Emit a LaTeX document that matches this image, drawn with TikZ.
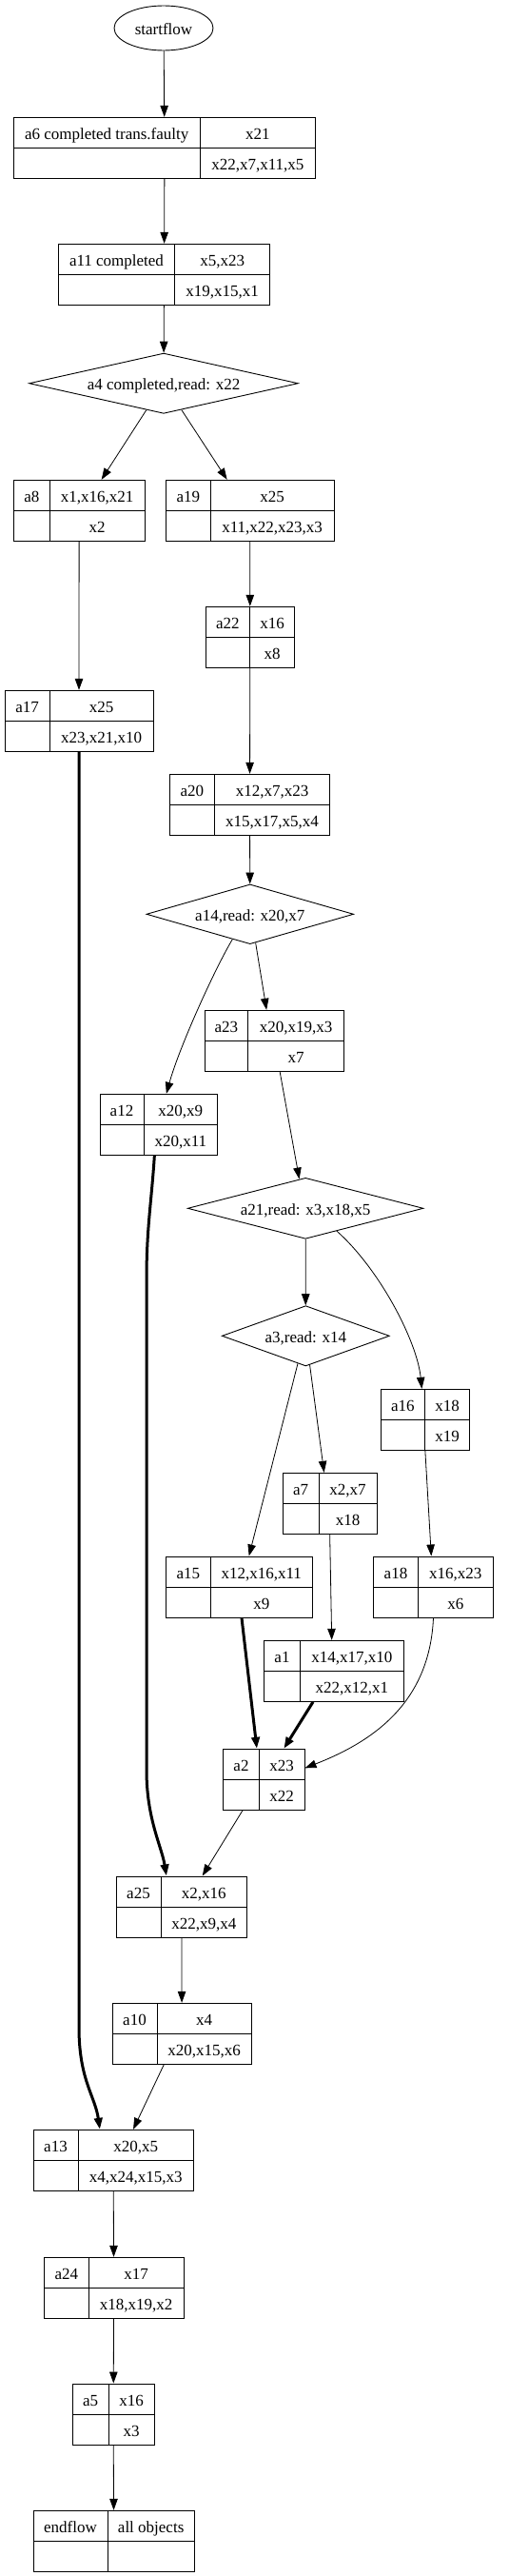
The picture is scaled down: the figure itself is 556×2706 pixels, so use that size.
\documentclass[tikz,border=0pt]{standalone}
\usepackage{fontspec}
\setmainfont{Liberation Serif}
\usetikzlibrary{arrows.meta, shapes.geometric}

% record: name, left, divider, right, top, action, upper set, lower set
\newcommand{\recbox}[8]{%
  \node[recnode, minimum width={(#4)-(#2)}] (#1) at ({((#2)+(#4))/2}, {(#5)+32}) {};
  \draw[cellline] (#3, #5) -- (#3, {(#5)+64}) (#2, {(#5)+32}) -- (#4, {(#5)+32});
  \node (#1-act) at ({((#2)+(#3))/2}, {(#5)+16.5}) {#6};
  \node (#1-in) at ({((#3)+(#4))/2}, {(#5)+16.5}) {#7};
  \node (#1-out) at ({((#3)+(#4))/2}, {(#5)+48.5}) {#8};
}

\begin{document}
\begin{tikzpicture}[x=1pt, y=-1pt, >={Triangle[length=12pt, width=8.5pt]},
  every node/.style={font=\fontsize{17}{20}\selectfont, inner sep=0pt,
                     text height=14pt, text depth=0pt},
  recnode/.style={draw, line width=1pt, minimum height=64pt},
  cellline/.style={line width=1pt},
  choice/.style={diamond, draw, line width=0.9pt},
  flow/.style={->, line width=0.8pt},
  heavy/.style={->, line width=3pt}]
  \useasboundingbox (0,0) rectangle (556,2706);

  % Start
  \node[ellipse, draw, line width=0.9pt, minimum width=104pt, minimum height=47pt]
    (start) at (172,29.5) {startflow};

  % Records
  \recbox{a6}{14.3}{210}{331.7}{123.3}{a6 completed trans.faulty}{x21}{x22,x7,x11,x5}
  \recbox{a11}{61.3}{183.7}{283.7}{256.3}{a11 completed}{x5,x23}{x19,x15,x1}
  \recbox{a8}{14.3}{52.3}{152}{504.3}{a8}{x1,x16,x21}{x2}
  \recbox{a19}{174.3}{221.3}{351}{504.3}{a19}{x25}{x11,x22,x23,x3}
  \recbox{a22}{216}{262.7}{309.7}{637.3}{a22}{x16}{x8}
  \recbox{a17}{5}{52.3}{161}{725.3}{a17}{x25}{x23,x21,x10}
  \recbox{a20}{178.3}{225.3}{346.7}{813.3}{a20}{x12,x7,x23}{x15,x17,x5,x4}
  \recbox{a23}{215}{260.7}{361.3}{1061.3}{a23}{x20,x19,x3}{x7}
  \recbox{a12}{105}{151}{228.7}{1149.3}{a12}{x20,x9}{x20,x11}
  \recbox{a16}{400}{446.7}{493.7}{1459.3}{a16}{x18}{x19}
  \recbox{a7}{297.3}{335}{396}{1547.3}{a7}{x2,x7}{x18}
  \recbox{a15}{174.3}{221.3}{328.3}{1635}{a15}{x12,x16,x11}{x9}
  \recbox{a18}{392.7}{439.3}{518.3}{1635}{a18}{x16,x23}{x6}
  \recbox{a1}{277.7}{315.3}{424.3}{1723.3}{a1}{x14,x17,x10}{x22,x12,x1}
  \recbox{a2}{234.7}{272.3}{320}{1837.3}{a2}{x23}{x22}
  \recbox{a25}{122}{169}{259.7}{1971}{a25}{x2,x16}{x22,x9,x4}
  \recbox{a10}{118}{165}{264.3}{2104.3}{a10}{x4}{x20,x15,x6}
  \recbox{a13}{35}{82}{203.3}{2237.3}{a13}{x20,x5}{x4,x24,x15,x3}
  \recbox{a24}{46.3}{93.3}{193}{2371.3}{a24}{x17}{x18,x19,x2}
  \recbox{a5}{76.3}{114}{162}{2504}{a5}{x16}{x3}
  \recbox{end}{35}{113}{204.3}{2637.3}{endflow}{all objects}{}

  % Decisions
  \node[choice, aspect=4.47, minimum width=282.7pt, minimum height=63.3pt]
    (a4) at (172,402.7) {a4 completed,read: x22};
  \node[choice, aspect=3.47, minimum width=217.7pt, minimum height=62.7pt]
    (a14) at (262.8,960.3) {a14,read: x20,x7};
  \node[choice, aspect=3.87, minimum width=247.7pt, minimum height=64pt]
    (a21) at (321.1,1269.3) {a21,read: x3,x18,x5};
  \node[choice, aspect=2.78, minimum width=176pt, minimum height=63.3pt]
    (a3) at (321.3,1403.3) {a3,read: x14};

  % Connectors
  \draw[flow] (start) -- (a6);
  \draw[flow] (a6) -- (a11);
  \draw[flow] (a11) -- (a4);
  \draw[flow] (a4.-123) -- ([xshift=23.5pt]a8.north);
  \draw[flow] (a4.-56) -- ([xshift=-24pt]a19.north);
  \draw[flow] (a8) -- (a17);
  \draw[flow] (a19) -- (a22);
  \draw[flow] (a22) -- (a20);
  \draw[flow] (a20) -- (a14);
  \draw[flow] (a14.-79) -- ([xshift=-8pt]a23.north);
  \draw[flow] (a14.-125) .. controls +(-18,30) and +(14,-50) .. ([xshift=8pt]a12.north);
  \draw[flow] ([xshift=6pt]a23.south) -- (a21.102);
  \draw[flow] (a21) -- (a3);
  \draw[flow] (a21.-36) .. controls +(45,40) and +(-5,-50) .. ([xshift=-3.5pt]a16.north);
  \draw[flow] (a3.-82) -- ([xshift=-6pt]a7.north);
  \draw[flow] (a3.-106) -- ([xshift=10.4pt]a15.north);
  \draw[flow] (a16.south) -- ([xshift=-2.2pt]a18.north);
  \draw[flow] (a7.south) -- ([xshift=-2.3pt]a1.north);
  \draw[heavy] ([xshift=2.7pt]a15.south) -- ([xshift=-7.4pt]a2.north);
  \draw[heavy] ([xshift=-22pt]a1.south) -- ([xshift=21pt]a2.north);
  \draw[flow] (a18.south) .. controls +(-4,91) and +(69,-27) .. ([yshift=12pt]a2.east);
  \draw[flow] ([xshift=-22.4pt]a2.south) -- ([xshift=21.9pt]a25.north);
  \draw[heavy] ([xshift=-4.5pt]a12.south) .. controls +(-3,47) and +(0,-50) .. ++(-8.3,126.7)
    -- ++(0,520) .. controls +(0,50) and +(-5,-30.7) .. ([xshift=-15.9pt]a25.north);
  \draw[flow] (a25) -- (a10);
  \draw[flow] ([xshift=-18.9pt]a10.south) -- ([xshift=20.9pt]a13.north);
  \draw[heavy] (a17.south) -- ++(0,1340) .. controls +(0,55) and +(-5,-35)
    .. ([xshift=-14.2pt]a13.north);
  \draw[flow] (a13) -- (a24);
  \draw[flow] (a24) -- (a5);
  \draw[flow] (a5) -- (end);
\end{tikzpicture}
\end{document}
